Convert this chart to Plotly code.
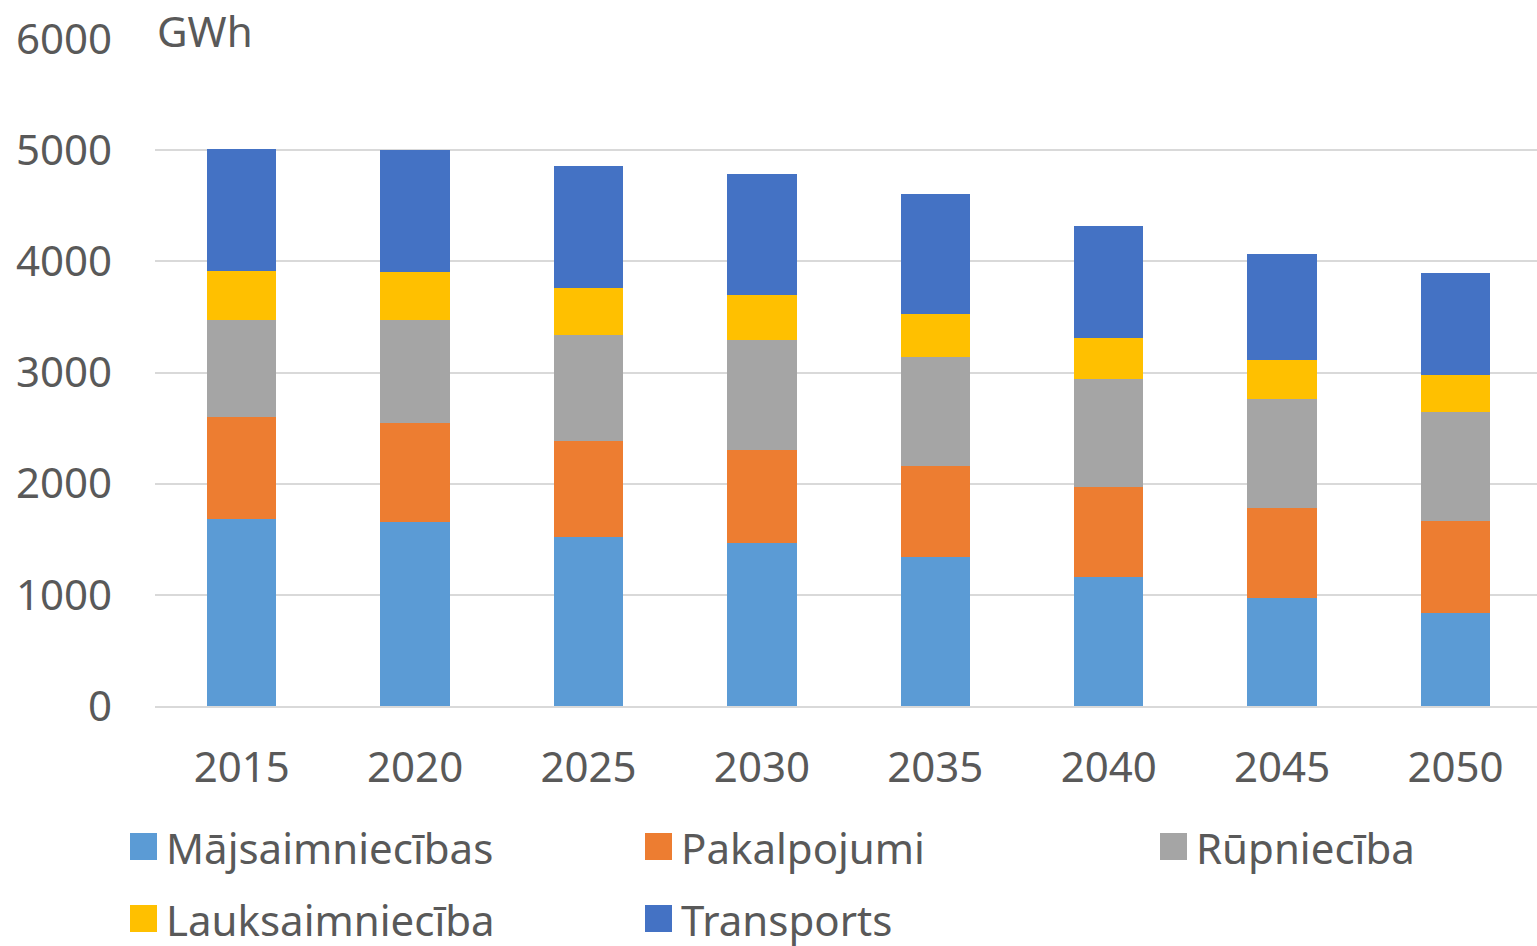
import plotly.graph_objects as go

years = ["2015", "2020", "2025", "2030", "2035", "2040", "2045", "2050"]
majsaimniecibas = [1680, 1655, 1520, 1465, 1340, 1160, 970, 835]
pakalpojumi = [920, 890, 865, 835, 820, 810, 810, 830]
rupnieciba = [870, 925, 955, 990, 980, 970, 980, 980]
lauksaimnieciba = [440, 430, 420, 405, 385, 370, 350, 335]
transports = [1105, 1100, 1100, 1095, 1080, 1010, 960, 915]

series = [
    ("Mājsaimniecības", majsaimniecibas, "#5B9BD5"),
    ("Pakalpojumi", pakalpojumi, "#ED7D31"),
    ("Rūpniecība", rupnieciba, "#A5A5A5"),
    ("Lauksaimniecība", lauksaimnieciba, "#FFC000"),
    ("Transports", transports, "#4472C4"),
]

font_family = "Noto Sans"
text_color = "#595959"

W, H = 1537, 946
L, R, T, B = 155, 0, 39, 240


def paper_x(px):
    return (px - L) / (W - L - R)


def paper_y(py):
    return (H - B - py) / (H - B - T)


fig = go.Figure()
for name, values, color in series:
    fig.add_trace(
        go.Bar(
            x=years,
            y=values,
            name=name,
            marker=dict(color=color, line=dict(width=0)),
            width=0.4,
            showlegend=False,
        )
    )

# legend drawn by hand: three columns, two rows
legend_cols = [130, 645, 1160]
legend_rows = [847, 919]
shapes = []
annotations = []
for i, (name, values, color) in enumerate(series):
    cx = legend_cols[i % 3]
    cy = legend_rows[i // 3]
    shapes.append(
        dict(
            type="rect",
            xref="paper",
            yref="paper",
            x0=paper_x(cx),
            x1=paper_x(cx + 27),
            y0=paper_y(cy + 13),
            y1=paper_y(cy - 14),
            fillcolor=color,
            line=dict(width=0),
        )
    )
    annotations.append(
        dict(
            text=name,
            xref="paper",
            yref="paper",
            x=paper_x(cx + 35),
            y=paper_y(cy),
            xanchor="left",
            yanchor="middle",
            showarrow=False,
            borderpad=0,
            font=dict(size=42, color=text_color),
        )
    )

annotations.append(
    dict(
        text="GWh",
        xref="paper",
        yref="paper",
        x=paper_x(156),
        y=paper_y(31),
        xanchor="left",
        yanchor="middle",
        showarrow=False,
        borderpad=0,
        font=dict(size=42, color=text_color),
    )
)

fig.update_layout(
    barmode="stack",
    width=W,
    height=H,
    plot_bgcolor="white",
    paper_bgcolor="white",
    margin=dict(l=L, r=R, t=T, b=B),
    font=dict(family=font_family, size=42, color=text_color),
    showlegend=False,
    xaxis=dict(
        range=[-0.5, 7.47],
        showgrid=False,
        showline=True,
        linecolor="#D9D9D9",
        linewidth=2,
        ticks="",
        ticklabelstandoff=24,
        tickfont=dict(size=42, color=text_color),
        automargin=False,
    ),
    yaxis=dict(
        range=[0, 6000],
        tickvals=[0, 1000, 2000, 3000, 4000, 5000, 6000],
        showgrid=True,
        gridcolor="#D9D9D9",
        gridwidth=1.5,
        zeroline=False,
        ticks="",
        ticklabelstandoff=42,
        tickfont=dict(size=42, color=text_color),
        automargin=False,
    ),
    shapes=shapes,
    annotations=annotations,
)

# drop the default body margin so the figure fills the window exactly
fig.write_html(
    "out.html",
    config={"displayModeBar": False},
    post_script="document.body.style.margin='0px';",
)
